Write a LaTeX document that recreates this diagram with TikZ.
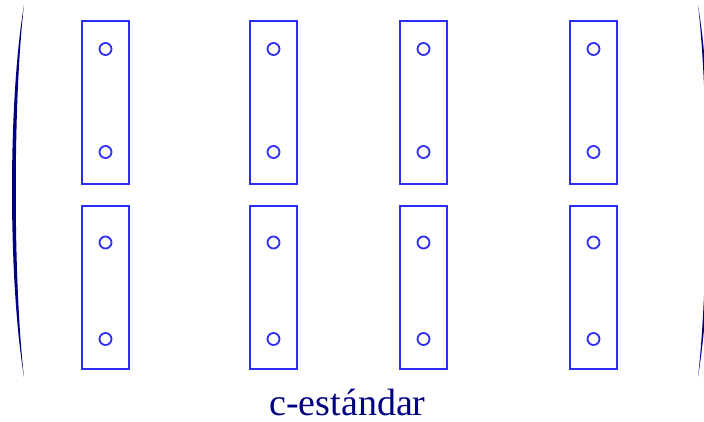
\documentclass[tikz,border=0pt]{standalone}
\usepackage{fontspec}
\setmainfont{Liberation Serif}
\definecolor{boxblue}{RGB}{45,45,250}
\definecolor{parnavy}{RGB}{0,0,128}
\tikzset{
  plate/.style={draw=boxblue, line width=2pt, minimum width=47pt, minimum height=163pt, inner sep=0pt},
  hole/.style={circle, draw=boxblue, line width=1.8pt, minimum size=12pt, inner sep=0pt},
  paren/.style={fill=parnavy, draw=none}
}
\begin{document}
\begin{tikzpicture}[x=1pt,y=-1pt]
\useasboundingbox (0,0) rectangle (704,421);
\clip (0,0) rectangle (704,421);
\fill[white] (0,0) rectangle (704,421);
% parentheses
\path[paren] (24,5) .. controls (8,100) and (8,280) .. (24,377)
   .. controls (13,280) and (13,100) .. (24,5) -- cycle;
\path[paren] (698,5) .. controls (714,100) and (714,280) .. (698,377)
   .. controls (709,280) and (709,100) .. (698,5) -- cycle;
% plates
\foreach \i/\x in {1/105.5,2/273.5,3/423.5,4/593.5}{
  \node[plate] (pu\i) at (\x,102) {};
  \node[plate] (pl\i) at (\x,287) {};
  \node[hole] (hu\i a) at (\x,49) {};
  \node[hole] (hu\i b) at (\x,152) {};
  \node[hole] (hl\i a) at (\x,242.5) {};
  \node[hole] (hl\i b) at (\x,339) {};
}
\node[text=parnavy, font=\fontsize{38}{40}\selectfont, anchor=base, inner sep=1pt] (lbl) at (347.5,415) {c-estándar};
\end{tikzpicture}
\end{document}
